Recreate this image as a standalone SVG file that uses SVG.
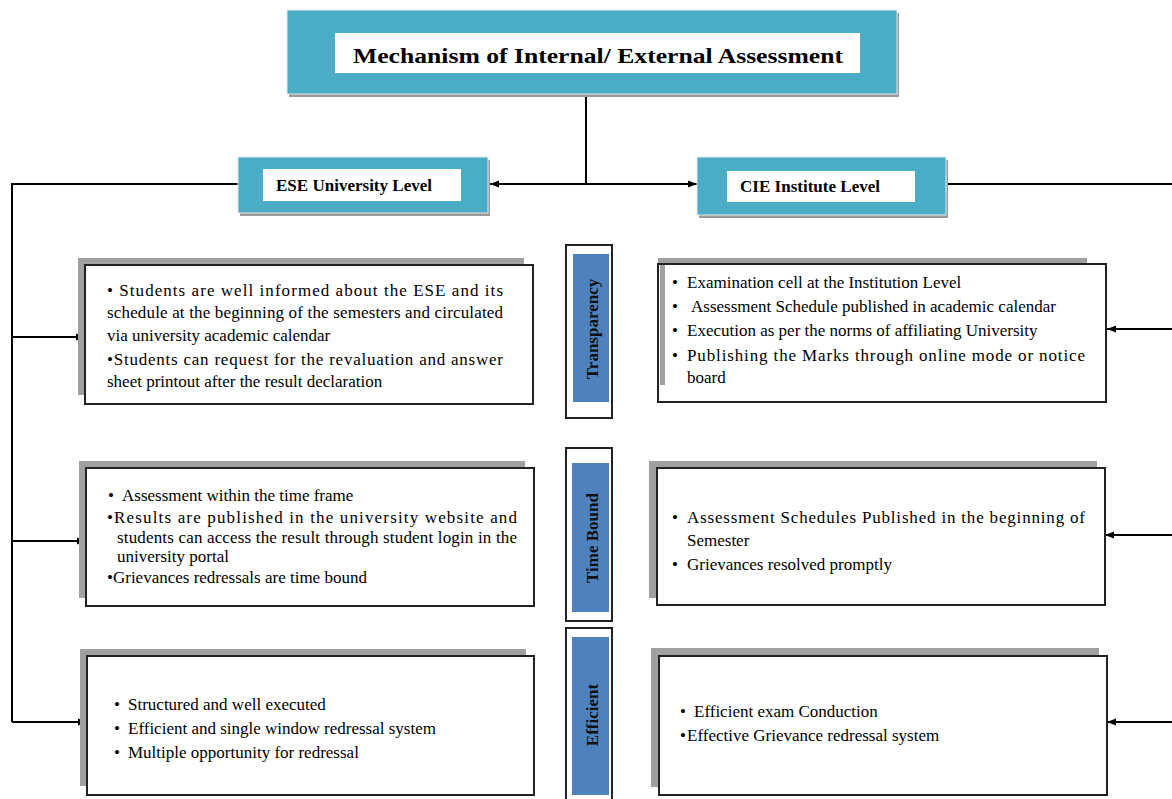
<svg xmlns="http://www.w3.org/2000/svg" width="1172" height="799" viewBox="0 0 1172 799">
<defs>
<style>
.teal{fill:#4BACC6;}
.tshadow{fill:#9a9a9a;}
.inner{fill:#ffffff;}
.hd{font-family:"Liberation Serif","Times New Roman",serif;font-weight:bold;fill:#000;}
.tx{font-family:"Liberation Serif","Times New Roman",serif;font-size:17px;fill:#000;}
.box{fill:#ffffff;stroke:#222;stroke-width:2;}
.shadow{fill:#a0a0a0;}
.lblout{fill:#ffffff;stroke:#222;stroke-width:2;}
.lblin{fill:#4F81BD;}
.vl{font-family:"Liberation Serif","Times New Roman",serif;font-weight:bold;font-size:17px;fill:#111;}
.conn{fill:none;stroke:#000;stroke-width:2;}
</style>
<marker id="ah" viewBox="0 0 10 10" refX="10" refY="5" markerWidth="9" markerHeight="9" markerUnits="userSpaceOnUse" orient="auto"><path d="M0,1 L10,5 L0,9 z" fill="#000"/></marker>
</defs>
<rect width="1172" height="799" fill="#ffffff"/>

<g id="connectors">
<path class="conn" d="M586,97 V184"/>
<path class="conn" d="M586,184 H490" marker-end="url(#ah)"/>
<path class="conn" d="M586,184 H697" marker-end="url(#ah)"/>
<path class="conn" d="M238,184 H12 V722"/>
<path class="conn" d="M12,337 H85" marker-end="url(#ah)"/>
<path class="conn" d="M12,541 H86" marker-end="url(#ah)"/>
<path class="conn" d="M12,722 H87" marker-end="url(#ah)"/>
<path class="conn" d="M946,184 H1172"/>
<path class="conn" d="M1172,329 H1107" marker-end="url(#ah)"/>
<path class="conn" d="M1172,535 H1105" marker-end="url(#ah)"/>
<path class="conn" d="M1172,722 H1107" marker-end="url(#ah)"/>
</g>

<g id="title">
<rect class="tshadow" x="289" y="13" width="610" height="84"/>
<rect class="teal" x="287" y="10" width="610" height="84" stroke="#e8e8e8" stroke-width="1"/>
<rect class="inner" x="335" y="33" width="525" height="40"/>
<text class="hd" x="598" y="63" font-size="22" text-anchor="middle" textLength="490" lengthAdjust="spacingAndGlyphs">Mechanism of Internal/ External Assessment</text>
</g>

<g id="ese">
<rect class="tshadow" x="240" y="160" width="250" height="56"/>
<rect class="teal" x="238" y="157" width="250" height="56" stroke="#e8e8e8" stroke-width="1"/>
<rect class="inner" x="263" y="169" width="198" height="32"/>
<text class="hd" x="276" y="191" font-size="16" textLength="156" lengthAdjust="spacingAndGlyphs">ESE University Level</text>
</g>

<g id="cie">
<rect class="tshadow" x="699" y="160" width="249" height="58"/>
<rect class="teal" x="697" y="157" width="249" height="58" stroke="#e8e8e8" stroke-width="1"/>
<rect class="inner" x="727" y="171" width="188" height="31"/>
<text class="hd" x="740" y="192" font-size="16" textLength="140" lengthAdjust="spacingAndGlyphs">CIE Institute Level</text>
</g>

<g id="ese-transparency">
<rect class="shadow" x="78" y="258" width="446" height="137"/>
<rect class="box" x="85" y="265" width="448" height="139"/>
<text class="tx" x="107" y="296" textLength="396" lengthAdjust="spacing">• Students are well informed about the ESE and its</text>
<text class="tx" x="107" y="318" textLength="396" lengthAdjust="spacing">schedule at the beginning of the semesters and circulated</text>
<text class="tx" x="107" y="341">via university academic calendar</text>
<text class="tx" x="107" y="365" textLength="396" lengthAdjust="spacing">•Students can request for the revaluation and answer</text>
<text class="tx" x="107" y="387">sheet printout after the result declaration</text>
</g>

<g id="ese-timebound">
<rect class="shadow" x="79" y="461" width="446" height="137"/>
<rect class="box" x="86" y="468" width="448" height="138"/>
<text class="tx" x="108" y="501">•</text><text class="tx" x="122" y="501">Assessment within the time frame</text>
<text class="tx" x="107" y="523" textLength="410" lengthAdjust="spacing">•Results are published in the university website and</text>
<text class="tx" x="117" y="543" textLength="400" lengthAdjust="spacing">students can access the result through student login in the</text>
<text class="tx" x="117" y="562">university portal</text>
<text class="tx" x="107" y="583">•Grievances redressals are time bound</text>
</g>

<g id="ese-efficient">
<rect class="shadow" x="80" y="649" width="446" height="137"/>
<rect class="box" x="87" y="656" width="447" height="139"/>
<text class="tx" x="114" y="710">•</text><text class="tx" x="128" y="710">Structured and well executed</text>
<text class="tx" x="114" y="734">•</text><text class="tx" x="128" y="734">Efficient and single window redressal system</text>
<text class="tx" x="114" y="758">•</text><text class="tx" x="128" y="758">Multiple opportunity for redressal</text>
</g>

<g id="label-transparency">
<rect class="lblout" x="566" y="245" width="46" height="173"/>
<rect class="lblin" x="573" y="254" width="36" height="148"/>
<text class="vl" transform="translate(598,329) rotate(-90)" text-anchor="middle">Transparency</text>
</g>

<g id="label-timebound">
<rect class="lblout" x="566" y="448" width="46" height="173"/>
<rect class="lblin" x="572" y="463" width="37" height="149"/>
<text class="vl" transform="translate(598,538) rotate(-90)" text-anchor="middle">Time Bound</text>
</g>

<g id="label-efficient">
<rect class="lblout" x="566" y="628" width="46" height="175"/>
<rect class="lblin" x="572" y="637" width="37" height="158"/>
<text class="vl" transform="translate(598,715) rotate(-90)" text-anchor="middle">Efficient</text>
</g>

<g id="cie-transparency">
<rect class="shadow" x="658" y="258" width="429" height="7"/>
<rect class="box" x="658" y="264" width="448" height="138"/>
<rect class="shadow" x="660" y="265" width="5" height="120"/>
<text class="tx" x="672" y="288">•</text><text class="tx" x="687" y="288">Examination cell at the Institution Level</text>
<text class="tx" x="672" y="312">•</text><text class="tx" x="691" y="312">Assessment Schedule published in academic calendar</text>
<text class="tx" x="672" y="336">•</text><text class="tx" x="687" y="336">Execution as per the norms of affiliating University</text>
<text class="tx" x="672" y="361">•</text><text class="tx" x="687" y="361" textLength="398" lengthAdjust="spacing">Publishing the Marks through online mode or notice</text>
<text class="tx" x="687" y="383">board</text>
</g>

<g id="cie-timebound">
<rect class="shadow" x="649" y="461" width="448" height="137"/>
<rect class="box" x="657" y="468" width="448" height="137"/>
<text class="tx" x="672" y="523">•</text><text class="tx" x="687" y="523" textLength="398" lengthAdjust="spacing">Assessment Schedules Published  in the beginning of</text>
<text class="tx" x="687" y="546">Semester</text>
<text class="tx" x="672" y="570">•</text><text class="tx" x="687" y="570">Grievances resolved promptly</text>
</g>

<g id="cie-efficient">
<rect class="shadow" x="651" y="648" width="448" height="139"/>
<rect class="box" x="659" y="656" width="448" height="139"/>
<text class="tx" x="680" y="717">•</text><text class="tx" x="694" y="717">Efficient exam Conduction</text>
<text class="tx" x="680" y="741">•</text><text class="tx" x="687" y="741">Effective Grievance redressal system</text>
</g>
</svg>
